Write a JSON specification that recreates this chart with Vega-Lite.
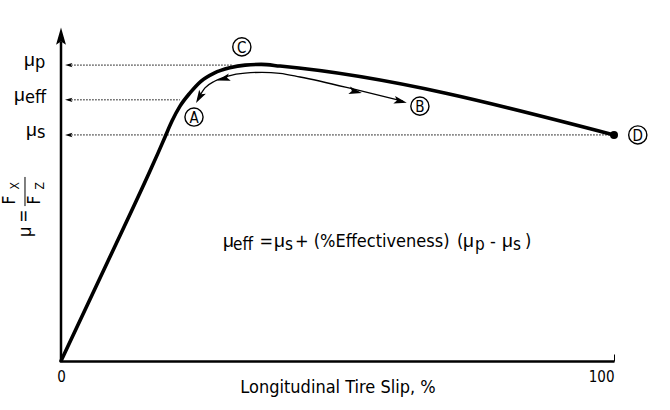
{
  "$schema": "https://vega.github.io/schema/vega-lite/v6.json",
  "autosize": "none",
  "width": 553,
  "height": 331,
  "padding": {"left": 61, "top": 30, "right": 56, "bottom": 49},
  "background": "white",
  "config": {
    "view": {"stroke": null},
    "font": "Liberation Sans Narrow, DejaVu Sans Condensed, sans-serif",
    "text": {"color": "black"}
  },
  "datasets": {
    "curve": [
      {"x": 0, "y": 0},
      {"x": 8.5, "y": 0.302},
      {"x": 16.09, "y": 0.574},
      {"x": 17.54, "y": 0.628},
      {"x": 18.81, "y": 0.677},
      {"x": 20.07, "y": 0.725},
      {"x": 21.52, "y": 0.77},
      {"x": 23.33, "y": 0.81},
      {"x": 25.3, "y": 0.845},
      {"x": 27.7, "y": 0.87},
      {"x": 30.5, "y": 0.886},
      {"x": 33.3, "y": 0.894},
      {"x": 36.2, "y": 0.896},
      {"x": 39.6, "y": 0.891},
      {"x": 100, "y": 0.683}
    ],
    "sweep": [
      {"x": 24.77, "y": 0.792},
      {"x": 26.04, "y": 0.825},
      {"x": 27.85, "y": 0.846},
      {"x": 30.2, "y": 0.861},
      {"x": 33.27, "y": 0.87},
      {"x": 36.35, "y": 0.872},
      {"x": 39.6, "y": 0.869},
      {"x": 43.22, "y": 0.858},
      {"x": 53.53, "y": 0.819},
      {"x": 61.84, "y": 0.785}
    ],
    "sweepHeads": [
      {"x": 25.05, "y": 0.798, "heading": 210},
      {"x": 29.48, "y": 0.853, "heading": 255},
      {"x": 53.16, "y": 0.814, "heading": 102},
      {"x": 61.3, "y": 0.785, "heading": 103}
    ],
    "levels": [
      {"name": "peak", "y": 0.894, "x0": 1.3, "x1": 31},
      {"name": "effective", "y": 0.789, "x0": 1.3, "x1": 21.5},
      {"name": "sliding", "y": 0.683, "x0": 1.3, "x1": 100}
    ],
    "yAxisLine": [{"x": 0, "y0": 0, "y1": 0.965}],
    "yAxisHead": [{"x": 0, "y": 0.98, "heading": 0}],
    "endPoint": [{"x": 100, "y": 0.683}],
    "callouts": [
      {"letter": "A", "x": 24.05, "y": 0.737},
      {"letter": "B", "x": 64.9, "y": 0.77},
      {"letter": "C", "x": 32.7, "y": 0.949},
      {"letter": "D", "x": 104.3, "y": 0.683}
    ],
    "formulaMu": [
      {"t": "μ", "x": 29.29, "y": 0.344},
      {"t": "μ", "x": 38.5, "y": 0.344},
      {"t": "μ", "x": 72.69, "y": 0.344},
      {"t": "μ", "x": 79.75, "y": 0.344}
    ],
    "formulaText": [
      {"t": "=", "x": 35.9, "y": 0.344},
      {"t": "+ (%Effectiveness)", "x": 42.31, "y": 0.344},
      {"t": "(", "x": 71.6, "y": 0.344},
      {"t": "-", "x": 77.58, "y": 0.344},
      {"t": ")", "x": 83.91, "y": 0.344}
    ],
    "formulaSub": [
      {"t": "eff", "x": 31.1, "y": 0.344},
      {"t": "s", "x": 40.5, "y": 0.344},
      {"t": "p", "x": 74.86, "y": 0.344},
      {"t": "s", "x": 81.74, "y": 0.344}
    ],
    "levelMu": [
      {"t": "μ", "x": -4.7, "y": 0.894},
      {"t": "μ", "x": -6.51, "y": 0.789},
      {"t": "μ", "x": -4.34, "y": 0.683}
    ],
    "levelSub": [
      {"t": "p", "x": -4.7, "y": 0.894},
      {"t": "eff", "x": -6.51, "y": 0.789},
      {"t": "s", "x": -4.34, "y": 0.683}
    ],
    "ratioMu": [
      {"t": "μ", "x": -6.33, "y": 0.39}
    ],
    "ratioMain": [
      {"t": "=", "x": -6.69, "y": 0.438},
      {"t": "F", "x": -9.22, "y": 0.486},
      {"t": "F", "x": -4.7, "y": 0.486}
    ],
    "ratioSub": [
      {"t": "X", "x": -8.32, "y": 0.529},
      {"t": "Z", "x": -3.8, "y": 0.529}
    ],
    "ratioBar": [{"x": -6.51, "y0": 0.468, "y1": 0.556}]
  },
  "layer": [
    {
      "data": {"name": "curve"},
      "mark": {"type": "line", "color": "black", "strokeWidth": 3.6, "interpolate": "monotone", "strokeCap": "round", "clip": false},
      "encoding": {
        "x": {
          "field": "x", "type": "quantitative",
          "scale": {"domain": [0, 100], "nice": false, "zero": false},
          "axis": {
            "values": [0, 100],
            "grid": false,
            "domainColor": "black",
            "domainWidth": 2.5,
            "tickColor": "black",
            "tickWidth": 1,
            "tickSize": -7,
            "labelFontSize": 15,
            "labelColor": "black",
            "labelPadding": 15,
            "labelAlign": {"condition": {"test": "datum.value === 100", "value": "right"}, "value": "center"},
            "title": "Longitudinal Tire Slip, %",
            "titleFontSize": 18,
            "titleFontWeight": "normal",
            "titleColor": "black",
            "titlePadding": -6
          }
        },
        "y": {"field": "y", "type": "quantitative", "scale": {"domain": [0, 1], "nice": false, "zero": false}, "axis": null}
      }
    },
    {
      "data": {"name": "yAxisLine"},
      "mark": {"type": "rule", "color": "black", "strokeWidth": 2.5},
      "encoding": {
        "x": {"field": "x", "type": "quantitative"},
        "y": {"field": "y0", "type": "quantitative"},
        "y2": {"field": "y1"}
      }
    },
    {
      "data": {"name": "levels"},
      "mark": {"type": "rule", "color": "black", "strokeWidth": 1, "strokeDash": [1.5, 1.5]},
      "encoding": {
        "x": {"field": "x0", "type": "quantitative"},
        "x2": {"field": "x1"},
        "y": {"field": "y", "type": "quantitative"}
      }
    },
    {
      "data": {"name": "levels"},
      "mark": {"type": "point", "shape": "M0,-1L0.55,0.85L0,0.45L-0.55,0.85Z", "filled": true, "color": "black", "size": 64, "opacity": 1, "angle": 270},
      "encoding": {
        "x": {"datum": 1.45, "type": "quantitative"},
        "y": {"field": "y", "type": "quantitative"}
      }
    },
    {
      "data": {"name": "sweep"},
      "mark": {"type": "line", "color": "black", "strokeWidth": 1.3, "interpolate": "monotone"},
      "encoding": {
        "x": {"field": "x", "type": "quantitative"},
        "y": {"field": "y", "type": "quantitative"}
      }
    },
    {
      "data": {"name": "sweepHeads"},
      "mark": {"type": "point", "shape": "M0,-1L0.55,0.85L0,0.45L-0.55,0.85Z", "filled": true, "color": "black", "size": 196, "opacity": 1},
      "encoding": {
        "x": {"field": "x", "type": "quantitative"},
        "y": {"field": "y", "type": "quantitative"},
        "angle": {"field": "heading", "type": "quantitative", "scale": null}
      }
    },
    {
      "data": {"name": "yAxisHead"},
      "mark": {"type": "point", "shape": "M0,-1L0.55,0.9L0,0.55L-0.55,0.9Z", "filled": true, "color": "black", "size": 324, "opacity": 1},
      "encoding": {
        "x": {"field": "x", "type": "quantitative"},
        "y": {"field": "y", "type": "quantitative"},
        "angle": {"field": "heading", "type": "quantitative", "scale": null}
      }
    },
    {
      "data": {"name": "endPoint"},
      "mark": {"type": "point", "shape": "circle", "filled": true, "color": "black", "size": 64, "opacity": 1},
      "encoding": {
        "x": {"field": "x", "type": "quantitative"},
        "y": {"field": "y", "type": "quantitative"}
      }
    },
    {
      "data": {"name": "callouts"},
      "mark": {"type": "point", "shape": "circle", "filled": false, "fill": "white", "fillOpacity": 1, "stroke": "black", "strokeWidth": 1.4, "size": 330, "opacity": 1},
      "encoding": {
        "x": {"field": "x", "type": "quantitative"},
        "y": {"field": "y", "type": "quantitative"}
      }
    },
    {
      "data": {"name": "callouts"},
      "mark": {"type": "text", "fontSize": 15, "align": "center", "baseline": "middle", "dy": 1},
      "encoding": {
        "x": {"field": "x", "type": "quantitative"},
        "y": {"field": "y", "type": "quantitative"},
        "text": {"field": "letter"}
      }
    },
    {
      "data": {"name": "formulaMu"},
      "mark": {"type": "text", "font": "Liberation Sans, Arial, sans-serif", "fontSize": 19, "align": "left", "baseline": "alphabetic"},
      "encoding": {
        "x": {"field": "x", "type": "quantitative"},
        "y": {"field": "y", "type": "quantitative"},
        "text": {"field": "t"}
      }
    },
    {
      "data": {"name": "formulaText"},
      "mark": {"type": "text", "fontSize": 18, "align": "left", "baseline": "alphabetic"},
      "encoding": {
        "x": {"field": "x", "type": "quantitative"},
        "y": {"field": "y", "type": "quantitative"},
        "text": {"field": "t"}
      }
    },
    {
      "data": {"name": "formulaSub"},
      "mark": {"type": "text", "fontSize": 17, "align": "left", "baseline": "alphabetic", "dy": 3},
      "encoding": {
        "x": {"field": "x", "type": "quantitative"},
        "y": {"field": "y", "type": "quantitative"},
        "text": {"field": "t"}
      }
    },
    {
      "data": {"name": "levelMu"},
      "mark": {"type": "text", "font": "Liberation Sans, Arial, sans-serif", "fontSize": 19, "align": "right", "baseline": "alphabetic", "dy": 1},
      "encoding": {
        "x": {"field": "x", "type": "quantitative"},
        "y": {"field": "y", "type": "quantitative"},
        "text": {"field": "t"}
      }
    },
    {
      "data": {"name": "levelSub"},
      "mark": {"type": "text", "fontSize": 18, "align": "left", "baseline": "alphabetic", "dy": 3},
      "encoding": {
        "x": {"field": "x", "type": "quantitative"},
        "y": {"field": "y", "type": "quantitative"},
        "text": {"field": "t"}
      }
    },
    {
      "data": {"name": "ratioMu"},
      "mark": {"type": "text", "font": "Liberation Sans, Arial, sans-serif", "fontSize": 18, "align": "center", "baseline": "middle", "angle": 270},
      "encoding": {
        "x": {"field": "x", "type": "quantitative"},
        "y": {"field": "y", "type": "quantitative"},
        "text": {"field": "t"}
      }
    },
    {
      "data": {"name": "ratioMain"},
      "mark": {"type": "text", "fontSize": 17, "align": "center", "baseline": "middle", "angle": 270},
      "encoding": {
        "x": {"field": "x", "type": "quantitative"},
        "y": {"field": "y", "type": "quantitative"},
        "text": {"field": "t"}
      }
    },
    {
      "data": {"name": "ratioSub"},
      "mark": {"type": "text", "fontSize": 12, "align": "center", "baseline": "middle", "angle": 270},
      "encoding": {
        "x": {"field": "x", "type": "quantitative"},
        "y": {"field": "y", "type": "quantitative"},
        "text": {"field": "t"}
      }
    },
    {
      "data": {"name": "ratioBar"},
      "mark": {"type": "rule", "color": "black", "strokeWidth": 1},
      "encoding": {
        "x": {"field": "x", "type": "quantitative"},
        "y": {"field": "y0", "type": "quantitative"},
        "y2": {"field": "y1"}
      }
    }
  ]
}
